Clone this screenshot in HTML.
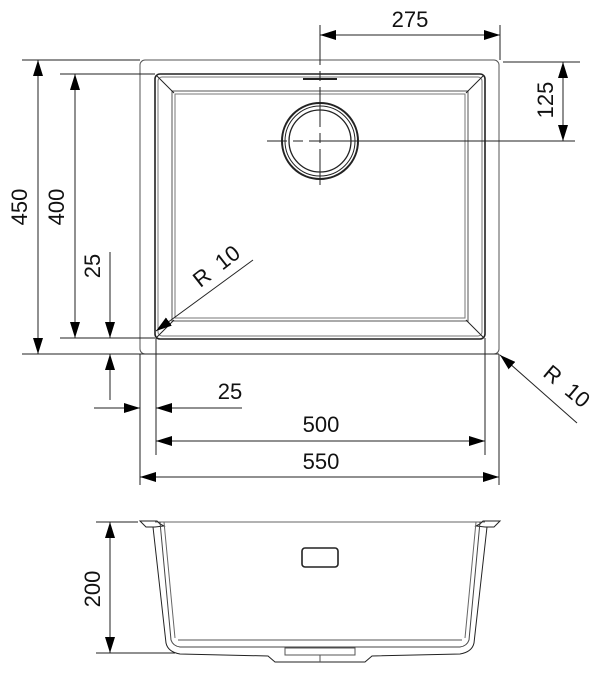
<!DOCTYPE html>
<html><head><meta charset="utf-8"><style>
html,body{margin:0;padding:0;background:#fff;}
svg{display:block;}
text{font-family:"Liberation Sans",Arial,sans-serif;font-size:22px;fill:#111;}
</style></head><body>
<svg width="600" height="681" viewBox="0 0 600 681" xmlns="http://www.w3.org/2000/svg">
<defs>
<marker id="a" viewBox="0 0 16 10" refX="16" refY="5" markerWidth="16" markerHeight="10" markerUnits="userSpaceOnUse" orient="auto"><path d="M0,0 L16,5 L0,10 z" fill="#000"/></marker>
</defs>
<g fill="none" stroke="#222" stroke-width="1">
<rect x="140" y="60" width="359" height="294" rx="5" stroke="#555"/>
<rect x="155" y="74" width="330" height="265" rx="5" stroke-width="1.6"/>
<rect x="158" y="77" width="324" height="259" rx="4" stroke="#777"/>
<rect x="172" y="91" width="296" height="230" stroke="#555"/>
<rect x="175" y="94" width="290" height="224" stroke="#777"/>
<line x1="157" y1="76" x2="174" y2="93"/><line x1="483" y1="76" x2="466" y2="93"/>
<line x1="157" y1="337" x2="174" y2="320"/><line x1="483" y1="337" x2="466" y2="320"/>
<line x1="303" y1="79" x2="337" y2="79" stroke-width="2"/>
<circle cx="320" cy="141" r="38" stroke-width="2"/>
<circle cx="320" cy="141" r="35"/>
<circle cx="320" cy="141" r="31" stroke-width="1.3"/>
<line x1="320" y1="25" x2="320" y2="185" stroke-dasharray="40,6,10,6"/>
<line x1="267" y1="141" x2="575" y2="141" stroke-dasharray="20,6,10,6,300"/>
<line x1="500" y1="25" x2="500" y2="60"/>
<line x1="410" y1="35" x2="320" y2="35" marker-end="url(#a)"/>
<line x1="410" y1="35" x2="500" y2="35" marker-end="url(#a)"/>
<line x1="503" y1="62" x2="580" y2="62"/>
<line x1="563" y1="100" x2="563" y2="62" marker-end="url(#a)"/>
<line x1="563" y1="100" x2="563" y2="141" marker-end="url(#a)"/>
<line x1="22" y1="60" x2="140" y2="60"/>
<line x1="22" y1="354" x2="499" y2="354"/>
<line x1="60" y1="74" x2="155" y2="74"/>
<line x1="60" y1="338" x2="155" y2="338"/>
<line x1="38" y1="200" x2="38" y2="60" marker-end="url(#a)"/>
<line x1="38" y1="200" x2="38" y2="354" marker-end="url(#a)"/>
<line x1="75" y1="200" x2="75" y2="74" marker-end="url(#a)"/>
<line x1="75" y1="200" x2="75" y2="338" marker-end="url(#a)"/>
<line x1="110" y1="252" x2="110" y2="338" marker-end="url(#a)"/>
<line x1="110" y1="400" x2="110" y2="354" marker-end="url(#a)"/>
<line x1="140" y1="354" x2="140" y2="485"/>
<line x1="499" y1="354" x2="499" y2="485"/>
<line x1="156" y1="338" x2="156" y2="455"/>
<line x1="485" y1="338" x2="485" y2="455"/>
<line x1="94" y1="408" x2="140" y2="408" marker-end="url(#a)"/>
<line x1="242" y1="408" x2="156" y2="408" marker-end="url(#a)"/>
<line x1="320" y1="441" x2="156" y2="441" marker-end="url(#a)"/>
<line x1="320" y1="441" x2="485" y2="441" marker-end="url(#a)"/>
<line x1="320" y1="477" x2="140" y2="477" marker-end="url(#a)"/>
<line x1="320" y1="477" x2="499" y2="477" marker-end="url(#a)"/>
<line x1="253" y1="260" x2="156" y2="331" marker-end="url(#a)"/>
<line x1="577" y1="423" x2="500" y2="355" marker-end="url(#a)"/>
<line x1="96" y1="522" x2="138" y2="522"/>
<line x1="96" y1="653" x2="175" y2="653"/>
<line x1="110" y1="590" x2="110" y2="522" marker-end="url(#a)"/>
<line x1="110" y1="590" x2="110" y2="653" marker-end="url(#a)"/>
<line x1="155" y1="522" x2="485" y2="522" stroke="#666"/>
<path d="M140,521 L157,521 L160,524 L164,526 L155,527 L146,527 L142,523 Z" />
<path d="M500,521 L483,521 L480,524 L476,526 L485,527 L494,527 L498,523 Z" />
<path d="M153,527 L166,643 Q168,652 180,654 L268,656 L275,662 L365,662 L372,656 L460,654 Q472,652 474,643 L487,527"/>
<path d="M160,522 L171,640 Q173,646 180,647 L460,647 Q467,646 469,640 L480,522" stroke="#444"/>
<path d="M164,522 L175,638 M476,522 L465,638" stroke="#666"/>
<line x1="178" y1="640" x2="462" y2="640" stroke="#555"/>
<path d="M285,648 L355,648 L355,655 L285,655 Z" stroke="#555"/>
<line x1="320" y1="655" x2="320" y2="662" stroke="#555"/>
<rect x="302" y="548" width="36" height="19" rx="3" stroke-width="1.6"/>
</g>
<text x="410" y="27" text-anchor="middle">275</text>
<text transform="translate(553,100) rotate(-90)" text-anchor="middle">125</text>
<text transform="translate(27,207) rotate(-90)" text-anchor="middle">450</text>
<text transform="translate(64,207) rotate(-90)" text-anchor="middle">400</text>
<text transform="translate(100,266) rotate(-90)" text-anchor="middle">25</text>
<text x="230" y="399" text-anchor="middle">25</text>
<text x="321" y="432" text-anchor="middle">500</text>
<text x="321" y="469" text-anchor="middle">550</text>
<text transform="translate(221,272) rotate(-38)" text-anchor="middle">R&#160;&#160;10</text>
<text transform="translate(562,392) rotate(40)" text-anchor="middle">R&#160;&#160;10</text>
<text transform="translate(100,589) rotate(-90)" text-anchor="middle">200</text>
</svg>
</body></html>
